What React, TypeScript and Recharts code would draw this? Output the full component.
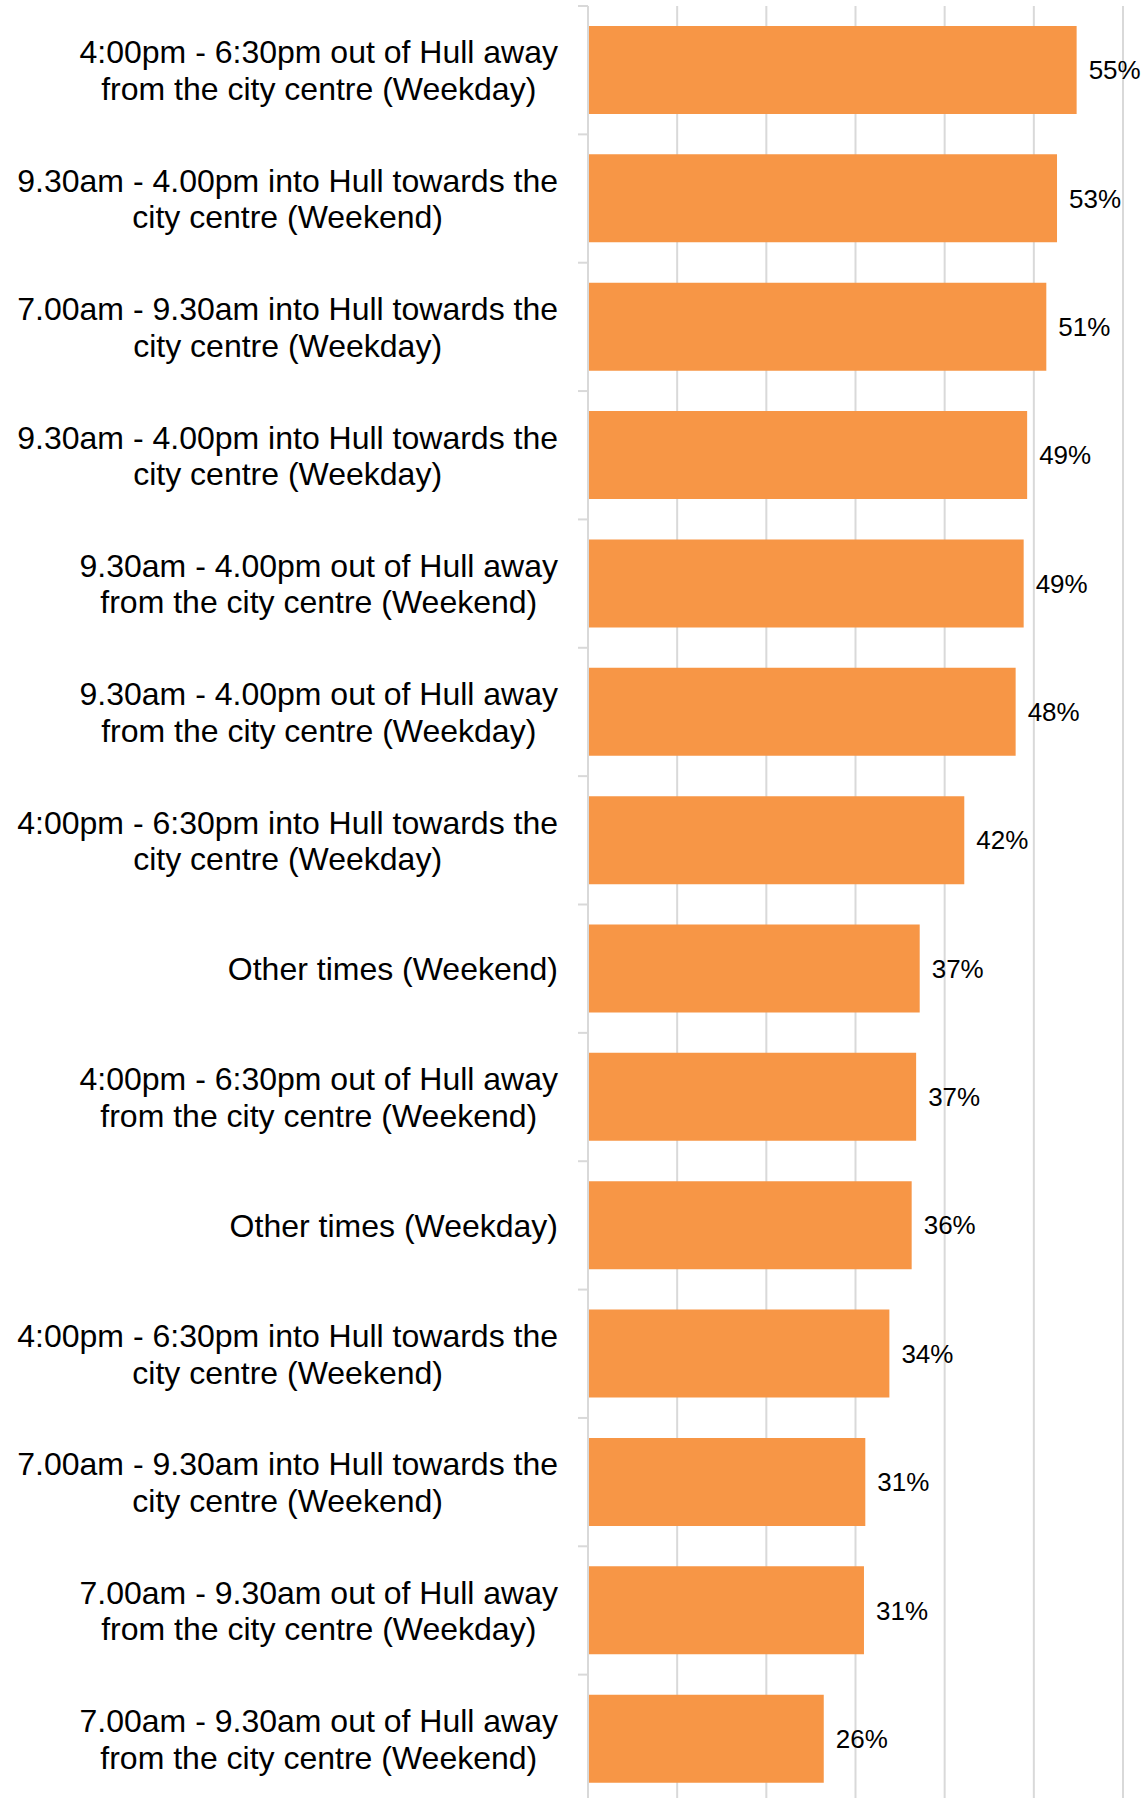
import { BarChart, Bar, XAxis, YAxis, CartesianGrid, LabelList } from 'recharts'

const categories = [
  '4:00pm - 6:30pm out of Hull away\nfrom the city centre (Weekday)',
  '9.30am - 4.00pm into Hull towards the\ncity centre (Weekend)',
  '7.00am - 9.30am into Hull towards the\ncity centre (Weekday)',
  '9.30am - 4.00pm into Hull towards the\ncity centre (Weekday)',
  '9.30am - 4.00pm out of Hull away\nfrom the city centre (Weekend)',
  '9.30am - 4.00pm out of Hull away\nfrom the city centre (Weekday)',
  '4:00pm - 6:30pm into Hull towards the\ncity centre (Weekday)',
  'Other times (Weekend)',
  '4:00pm - 6:30pm out of Hull away\nfrom the city centre (Weekend)',
  'Other times (Weekday)',
  '4:00pm - 6:30pm into Hull towards the\ncity centre (Weekend)',
  '7.00am - 9.30am into Hull towards the\ncity centre (Weekend)',
  '7.00am - 9.30am out of Hull away\nfrom the city centre (Weekday)',
  '7.00am - 9.30am out of Hull away\nfrom the city centre (Weekend)',
]

const shares = [0.548, 0.526, 0.514, 0.4925, 0.4886, 0.4796, 0.422, 0.372, 0.368, 0.363, 0.338, 0.311, 0.3095, 0.2644]

const xTicks = [0, 0.1, 0.2, 0.3, 0.4, 0.5, 0.6]

const data = categories.map((label, i) => ({ label, share: shares[i] }))

const FONT = '"Liberation Sans", Arial, sans-serif'
const GRID = '#d9d9d9'

let ctx: CanvasRenderingContext2D | null = null
function textWidth(s: string, size: number) {
  if (!ctx) ctx = document.createElement('canvas').getContext('2d')
  if (!ctx) return s.length * size * 0.5
  ctx.font = `${size}px ${FONT}`
  return ctx.measureText(s).width
}

// multi-line labels: lines centred on each other, block right-aligned against the axis
function CategoryTick({ x, y, payload }: any) {
  const size = 32
  const lineH = 36.5
  const lines = String(payload.value).split('\n')
  const maxW = Math.max(...lines.map((l) => textWidth(l, size)))
  const cx = x - maxW / 2
  const top = y - ((lines.length - 1) * lineH) / 2
  const edge = y - (payload.offset ?? 0)
  return (
    <g>
      <line x1={x + 20} x2={x + 30} y1={edge} y2={edge} stroke={GRID} strokeWidth={2} />
      <text textAnchor="middle" fontSize={size} fontFamily={FONT} fill="#000">
        {lines.map((l, i) => (
          <tspan key={i} x={cx} y={top + i * lineH + 11.5}>{l}</tspan>
        ))}
      </text>
    </g>
  )
}

export default function App() {
  return (
    <div style={{ position: 'absolute', left: 0, top: 0, width: 1141, height: 1798, overflow: 'hidden', background: '#fff' }}>
      <BarChart
        width={1141}
        height={1803}
        layout="vertical"
        data={data}
        margin={{ top: 6, right: 18, bottom: 0, left: 0 }}
      >
        <CartesianGrid horizontal={false} stroke={GRID} strokeWidth={2} />
        <XAxis type="number" domain={[0, 0.6]} ticks={xTicks} hide />
        <YAxis
          type="category"
          dataKey="label"
          width={588}
          interval={0}
          tickSize={10}
          tickMargin={20}
          tickLine={false}
          axisLine={{ stroke: GRID, strokeWidth: 2 }}
          tick={<CategoryTick />}
        />
        <Bar dataKey="share" fill="#F79646" barSize={88} isAnimationActive={false}>
          <LabelList
            dataKey="share"
            position="right"
            offset={12}
            fontSize={26}
            fontFamily={FONT}
            fill="#000"
            formatter={(v: any) => `${Math.round(Number(v) * 100)}%`}
          />
        </Bar>
      </BarChart>
    </div>
  )
}
